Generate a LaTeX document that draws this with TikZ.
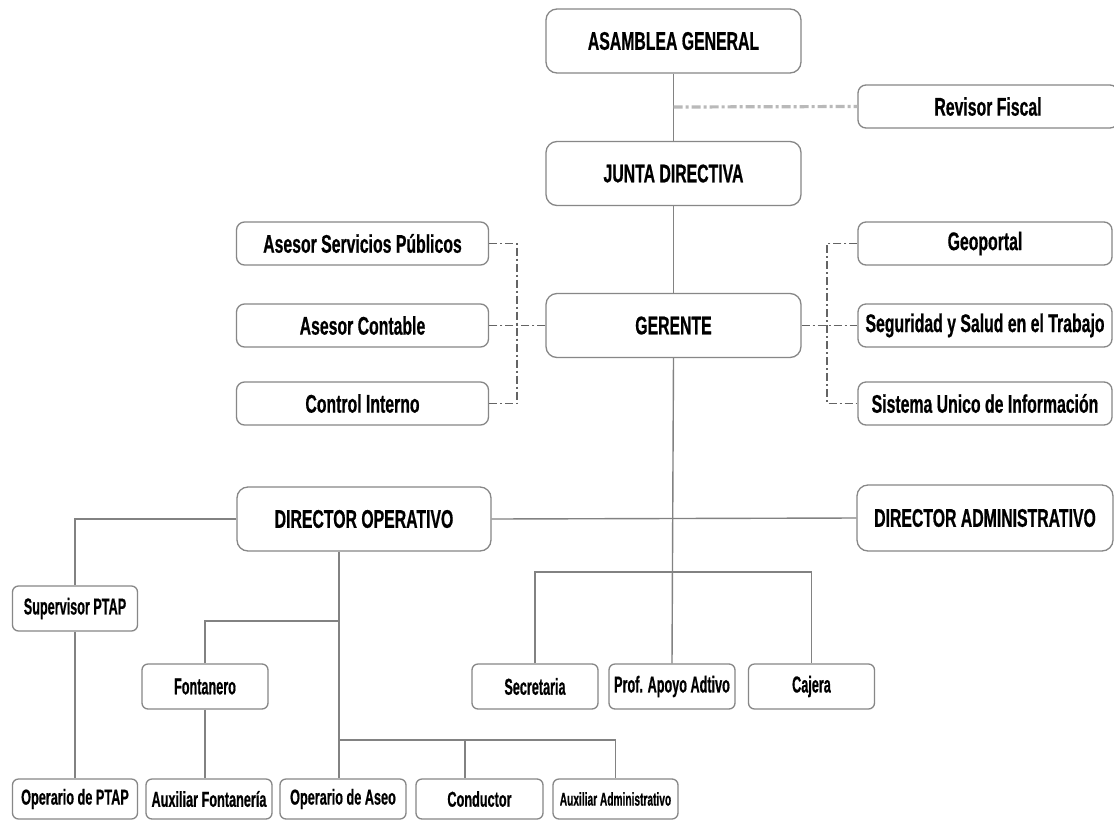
\documentclass[tikz,border=0pt]{standalone}
\usepackage{fontspec}
\newfontfamily\orgfont{Liberation Sans Bold}[FakeStretch=0.62,FakeBold=0.6]
\newfontfamily\orgfontnarrow{Liberation Sans Bold}[FakeStretch=0.55,FakeBold=0.6]
\newfontfamily\orgfontlow{Liberation Sans Bold}[FakeStretch=0.59,FakeBold=0.6]
\definecolor{boxline}{RGB}{135,135,135}
\definecolor{conn}{RGB}{130,130,130}
\definecolor{lightdash}{RGB}{185,185,185}
\definecolor{darkdash}{RGB}{100,100,100}
\begin{document}
\begin{tikzpicture}[x=1pt,y=-1pt,
  orgbox/.style={draw=boxline,line width=1.3pt,fill=white,inner sep=0pt,align=center,text=black},
  bigbox/.style={orgbox,rounded corners=11pt,minimum width=255pt,minimum height=64pt,font=\orgfont\fontsize{25.5}{28}\selectfont},
  midbox/.style={orgbox,rounded corners=8pt,minimum width=252pt,minimum height=43pt,font=\orgfont\fontsize{25.5}{28}\selectfont},
  smallbox/.style={orgbox,rounded corners=6pt,minimum width=126pt,minimum height=45pt,font=\orgfontnarrow\fontsize{23}{26}\selectfont},
  lowbox/.style={orgbox,rounded corners=6pt,minimum width=126pt,minimum height=40pt,font=\orgfontlow\fontsize{21.5}{24}\selectfont},
  link/.style={draw=conn,line width=1.4pt},
  softlink/.style={draw=lightdash,line width=3.2pt,dash pattern=on 9pt off 3pt on 3pt off 3pt},
  advlink/.style={draw=darkdash,line width=1.2pt,dash pattern=on 8pt off 3pt on 2pt off 3pt}]
\useasboundingbox (0,0) rectangle (1114,820);
\fill[white] (0,0) rectangle (1114,820);

% top chain
\node[bigbox] (ag) at (673.5,41) {ASAMBLEA GENERAL};
\node[bigbox] (jd) at (673.5,173.5) {JUNTA DIRECTIVA};
\node[bigbox] (ge) at (673.5,325.5) {GERENTE};
\node[midbox,minimum width=260pt] (rf) at (988,106.5) {Revisor Fiscal};

% advisors left
\node[midbox] (asp) at (362.5,243.5) {Asesor Servicios Públicos};
\node[midbox] (ac) at (362.5,325.5) {Asesor Contable};
\node[midbox] (ci) at (362.5,403.5) {Control Interno};

% advisors right
\node[midbox,minimum width=254pt] (geo) at (985,243.5) {Geoportal};
\node[midbox,minimum width=254pt] (seg) at (985,325.5) {Seguridad y Salud en el Trabajo};
\node[midbox,minimum width=254pt] (sis) at (985,403.5) {Sistema Unico de Información};

% directors
\node[bigbox,minimum width=254pt] (do) at (364,519) {DIRECTOR OPERATIVO};
\node[bigbox,minimum width=256pt,minimum height=66pt] (da) at (985,518) {DIRECTOR ADMINISTRATIVO};

% staff under gerente
\node[smallbox] (sec) at (535,686.5) {Secretaria};
\node[smallbox] (prof) at (672,686.5) {Prof. Apoyo Adtivo};
\node[smallbox] (caj) at (811.5,686.5) {Cajera};

% operative side
\node[smallbox,minimum width=125pt] (sup) at (75,608.5) {Supervisor PTAP};
\node[smallbox] (fon) at (205,686.5) {Fontanero};
\node[lowbox,minimum width=125pt] (opt) at (75,799) {Operario de PTAP};
\node[lowbox] (auxf) at (209,799) {Auxiliar Fontanería};
\node[lowbox] (opa) at (343,799) {Operario de Aseo};
\node[lowbox,minimum width=127pt] (con) at (479.5,799) {Conductor};
\node[lowbox,minimum width=125pt,font=\orgfontnarrow\fontsize{18.5}{21}\selectfont] (auxa) at (615.5,799) {Auxiliar Administrativo};

% helper coordinates
\coordinate (rfj) at (673.5,107);
\coordinate (lb) at (517,0);
\coordinate (rb) at (827,0);
\coordinate (dv) at (339,0);
\coordinate (gbar) at (0,572);
\coordinate (fbar) at (0,621);
\coordinate (obar) at (0,740);
\coordinate (cv) at (465,0);

% solid links top
\draw[link] (ag.south) -- (jd.north);
\draw[link] (jd.south) -- (ge.north);
\draw[link] (ge.south) -- (prof.north);
\draw[link] (do.east) -- (da.west);

% revisor
\draw[softlink] (rfj) -- (rf.west);

% advisor brackets
\draw[advlink] (asp.east) -| (lb |- ci.east) -- (ci.east);
\draw[advlink] (ge.west) -- (ac.east);
\draw[advlink] (geo.west) -| (rb |- sis.west) -- (sis.west);
\draw[advlink] (ge.east) -- (seg.west);

% staff bar
\draw[link] (sec.north) |- (gbar -| caj.north) -- (caj.north);

% operative
\draw[link] (do.west) -| (sup.north);
\draw[link] (sup.south) -- (opt.north);
\draw[link] (do.south -| dv) -- (opa.north -| dv);
\draw[link] (fon.north) |- (fbar -| dv);
\draw[link] (fon.south) -- (auxf.north -| fon.south);
\draw[link] (obar -| dv) -- (obar -| auxa.north) -- (auxa.north);
\draw[link] (obar -| cv) -- (con.north -| cv);
\end{tikzpicture}
\end{document}
